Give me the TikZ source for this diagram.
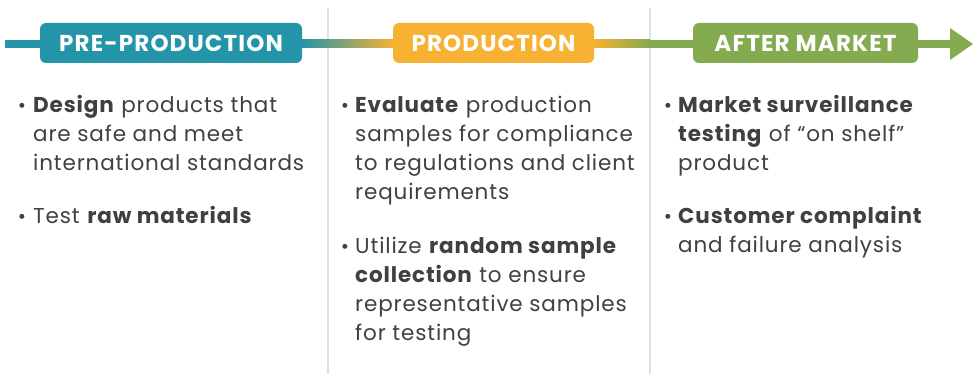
\documentclass[tikz,border=0pt]{standalone}
\usepackage{fontspec}
\setmainfont{Poppins}[LetterSpace=4]
\newfontfamily\labelfont[LetterSpace=5]{Poppins}
\usetikzlibrary{calc,backgrounds}
\definecolor{cteal}{HTML}{2494A9}
\definecolor{corange}{HTML}{F7B133}
\definecolor{cgreen}{HTML}{85AB50}
\definecolor{ctext}{HTML}{404040}
\definecolor{cdiv}{HTML}{DDE0EE}
\newcommand{\lines}[1]{\begin{tabular}[t]{@{}l@{}}#1\end{tabular}}
\begin{document}
\begin{tikzpicture}[x=1pt,y=-1pt,
  phase/.style={rounded corners=6pt, minimum height=40pt, inner sep=0pt, text=white,
    font=\labelfont\bfseries\fontsize{23}{23}\selectfont},
  body/.style={anchor=base west, inner sep=0pt, text=ctext,
    font=\fontsize{21.5}{29}\selectfont},
  bul/.style={anchor=base, inner sep=0pt, text=ctext, font=\fontsize{20}{29}\selectfont},
  divider/.style={draw=cdiv, line width=1.2pt}]
\useasboundingbox (0,0) rectangle (979,374);
% dividers
\coordinate (d1t) at (328,8); \coordinate (d1b) at (328,374);
\coordinate (d2t) at (650,8); \coordinate (d2b) at (650,374);
% phase boxes
\node[phase, fill=cteal, minimum width=262pt] (pre) at (171,43) {PRE-PRODUCTION};
\node[phase, fill=corange, minimum width=201pt] (prod) at (493.5,43) {PRODUCTION};
\node[phase, fill=cgreen, minimum width=225pt] (aft) at (805.5,43) {AFTER MARKET};
% band
\coordinate (start) at (5,44);
\coordinate (mid) at (650,44);
\coordinate (tipbase) at (950,44);
\coordinate (tip) at (973,44);
\begin{pgfonlayer}{background}
\draw[divider] (d1t) -- (d1b);
\draw[divider] (d2t) -- (d2b);
\fill[cteal] ($(start)+(0,-4)$) rectangle ($(pre.west|-start)+(1,4)$);
\shade[left color=cteal, right color=corange] ($(pre.east|-start)+(-1,-4)$) rectangle ($(prod.west|-start)+(1,4)$);
\shade[left color=corange, right color=cgreen] ($(prod.east|-start)+(-1,-4)$) rectangle ($(mid)+(0,4)$);
\fill[cgreen] ($(mid)+(-0.5,-4)$) rectangle ($(aft.west|-start)+(1,4)$);
\fill[cgreen] ($(aft.east|-start)+(-1,-4)$) rectangle ($(tipbase)+(0.5,4)$);
\fill[cgreen] ($(tipbase)+(0,-16)$) -- (tip) -- ($(tipbase)+(0,16)$) -- cycle;
\end{pgfonlayer}
% column 1
\node[bul] (b11) at (22,113) {•};
\node[body] (t11) at (33,113) {\lines{\textbf{Design} products that\\are safe and meet\\international standards}};
\node[bul] (b12) at (22,223) {•};
\node[body] (t12) at (33,223) {\lines{Test \textbf{raw materials}}};
% column 2
\node[bul] (b21) at (345,113) {•};
\node[body] (t21) at (355,113) {\lines{\textbf{Evaluate} production\\samples for compliance\\to regulations and client\\requirements}};
\node[bul] (b22) at (345,253) {•};
\node[body] (t22) at (355,253) {\lines{Utilize \textbf{random sample}\\\textbf{collection} to ensure\\representative samples\\for testing}};
% column 3
\node[bul] (b31) at (668,113) {•};
\node[body] (t31) at (678,113) {\lines{\textbf{Market surveillance}\\\textbf{testing} of “on shelf”\\product}};
\node[bul] (b32) at (668,223) {•};
\node[body] (t32) at (678,223) {\lines{\textbf{Customer complaint}\\and failure analysis}};
\end{tikzpicture}
\end{document}
